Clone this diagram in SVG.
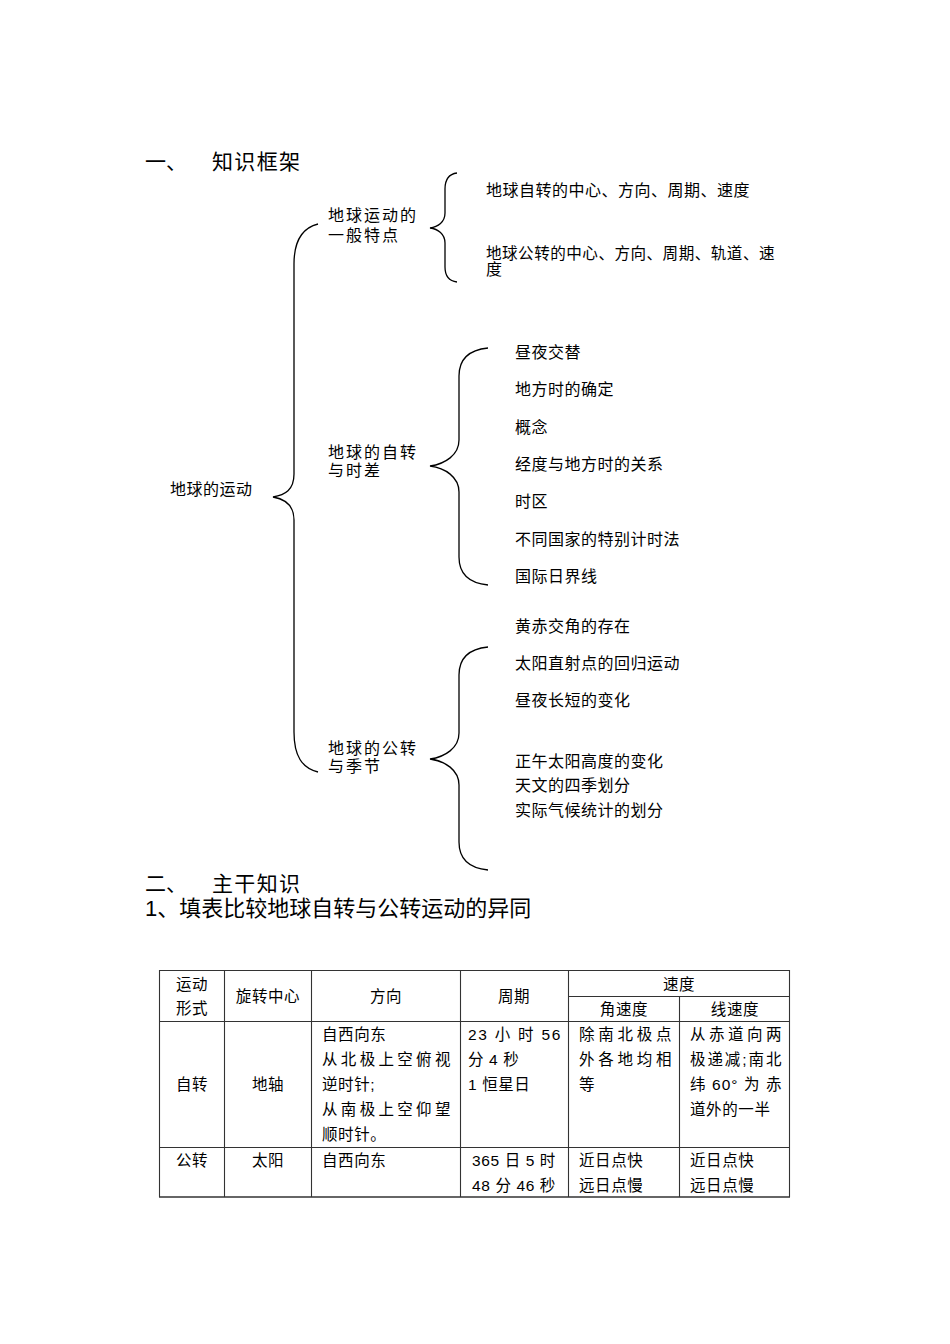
<svg xmlns="http://www.w3.org/2000/svg" width="950" height="1344" viewBox="0 0 950 1344">
<style>
text{font-family:"Liberation Sans","Noto Sans CJK SC",sans-serif;fill:#000}
.h{font-size:21px}
.h2{font-size:22px}
.t{font-size:16px;letter-spacing:0.5px}
.lb{font-size:16px;letter-spacing:2px}
.tb{font-size:15.5px;letter-spacing:0.6px}
.c{text-anchor:middle}
.br{fill:none;stroke:#000;stroke-width:1.3}
.grid line{stroke:#333;stroke-width:1.1}
</style>
<rect width="950" height="1344" fill="#fff"/>

<g id="heading1"><text class="h" x="145" y="169">一、</text><text class="h" x="212" y="169" textLength="88" lengthAdjust="spacing">知识框架</text></g>

<g id="connectors">
<path class="br" d="M318,224 C302,228 294,242 294,264 L294,474 C294,490 285,495 273,497 C285,499 294,505 294,520 L294,732 C294,756 302,768 318,772"/>
<path class="br" d="M457,173 C449,174 445,180 445,189 L445,213 C445,222 438,227 430,228 C438,229 445,234 445,243 L445,267 C445,276 449,281 457,282"/>
<path class="br" d="M488,348 C468,350 459,360 459,376 L459,440 C459,455 445,464 430,466 C445,468 459,477 459,492 L459,557 C459,573 468,583 488,585"/>
<path class="br" d="M488,647 C468,649 459,659 459,675 L459,733 C459,748 445,757 430,759 C445,761 459,770 459,785 L459,842 C459,858 468,868 488,870"/>
</g>

<g id="root"><text class="t" x="170" y="495">地球的运动</text></g>

<g id="n-general"><text class="lb" x="328" y="221">地球运动的</text><text class="lb" x="328" y="241">一般特点</text></g>
<g id="n-rotation"><text class="lb" x="328" y="458">地球的自转</text><text class="lb" x="328" y="476">与时差</text></g>
<g id="n-revolution"><text class="lb" x="328" y="754">地球的公转</text><text class="lb" x="328" y="772">与季节</text></g>

<g id="g1-items">
<text class="t" x="486" y="196">地球自转的中心、方向、周期、速度</text>
<text class="t" x="486" y="259" textLength="289" lengthAdjust="spacingAndGlyphs">地球公转的中心、方向、周期、轨道、速</text>
<text class="t" x="486" y="275">度</text>
</g>

<g id="g2-items">
<text class="t" x="515" y="358">昼夜交替</text>
<text class="t" x="515" y="395">地方时的确定</text>
<text class="t" x="515" y="433">概念</text>
<text class="t" x="515" y="470">经度与地方时的关系</text>
<text class="t" x="515" y="507">时区</text>
<text class="t" x="515" y="545">不同国家的特别计时法</text>
<text class="t" x="515" y="582">国际日界线</text>
</g>

<g id="g3-items">
<text class="t" x="515" y="632">黄赤交角的存在</text>
<text class="t" x="515" y="669">太阳直射点的回归运动</text>
<text class="t" x="515" y="706">昼夜长短的变化</text>
<text class="t" x="515" y="767">正午太阳高度的变化</text>
<text class="t" x="515" y="791">天文的四季划分</text>
<text class="t" x="515" y="816">实际气候统计的划分</text>
</g>

<g id="heading2"><text class="h" x="145" y="891">二、</text><text class="h" x="212" y="891" textLength="88" lengthAdjust="spacing">主干知识</text></g>
<g id="heading3"><text class="h2" x="145" y="916">1、填表比较地球自转与公转运动的异同</text></g>

<g id="table">
<g class="grid">
<line x1="159" y1="970.5" x2="790" y2="970.5"/>
<line x1="568" y1="996.5" x2="790" y2="996.5"/>
<line x1="159" y1="1021.5" x2="790" y2="1021.5"/>
<line x1="159" y1="1147.5" x2="790" y2="1147.5"/>
<line x1="159" y1="1197" x2="790" y2="1197" style="stroke-width:1.6"/>
<line x1="159.5" y1="970" x2="159.5" y2="1197"/>
<line x1="224.5" y1="970" x2="224.5" y2="1197"/>
<line x1="311.5" y1="970" x2="311.5" y2="1197"/>
<line x1="460.5" y1="970" x2="460.5" y2="1197"/>
<line x1="568.5" y1="970" x2="568.5" y2="1197"/>
<line x1="679.5" y1="996" x2="679.5" y2="1197"/>
<line x1="789.5" y1="970" x2="789.5" y2="1197"/>
</g>
<text class="tb c" x="192" y="990">运动</text>
<text class="tb c" x="192" y="1014">形式</text>
<text class="tb c" x="268" y="1002">旋转中心</text>
<text class="tb c" x="386" y="1002">方向</text>
<text class="tb c" x="514" y="1002">周期</text>
<text class="tb c" x="679" y="990">速度</text>
<text class="tb c" x="624" y="1015">角速度</text>
<text class="tb c" x="735" y="1015">线速度</text>

<text class="tb c" x="192" y="1090">自转</text>
<text class="tb c" x="268" y="1090">地轴</text>
<text class="tb" x="322" y="1040">自西向东</text>
<text class="tb" x="322" y="1065" textLength="129" lengthAdjust="spacing">从北极上空俯视</text>
<text class="tb" x="322" y="1090">逆时针;</text>
<text class="tb" x="322" y="1115" textLength="129" lengthAdjust="spacing">从南极上空仰望</text>
<text class="tb" x="322" y="1140">顺时针。</text>
<text class="tb" x="468" y="1040" textLength="93" lengthAdjust="spacing">23 小 时 56</text>
<text class="tb" x="468" y="1065">分 4 秒</text>
<text class="tb" x="468" y="1090">1 恒星日</text>
<text class="tb" x="579" y="1040" textLength="93" lengthAdjust="spacing">除南北极点</text>
<text class="tb" x="579" y="1065" textLength="93" lengthAdjust="spacing">外各地均相</text>
<text class="tb" x="579" y="1090">等</text>
<text class="tb" x="690" y="1040" textLength="92" lengthAdjust="spacing">从赤道向两</text>
<text class="tb" x="690" y="1065" textLength="92" lengthAdjust="spacing">极递减;南北</text>
<text class="tb" x="690" y="1090" textLength="92" lengthAdjust="spacing">纬 60° 为 赤</text>
<text class="tb" x="690" y="1115">道外的一半</text>

<text class="tb c" x="192" y="1166">公转</text>
<text class="tb c" x="268" y="1166">太阳</text>
<text class="tb" x="322" y="1166">自西向东</text>
<text class="tb c" x="514" y="1166">365 日 5 时</text>
<text class="tb c" x="514" y="1191">48 分 46 秒</text>
<text class="tb" x="579" y="1166">近日点快</text>
<text class="tb" x="579" y="1191">远日点慢</text>
<text class="tb" x="690" y="1166">近日点快</text>
<text class="tb" x="690" y="1191">远日点慢</text>
</g>
</svg>
